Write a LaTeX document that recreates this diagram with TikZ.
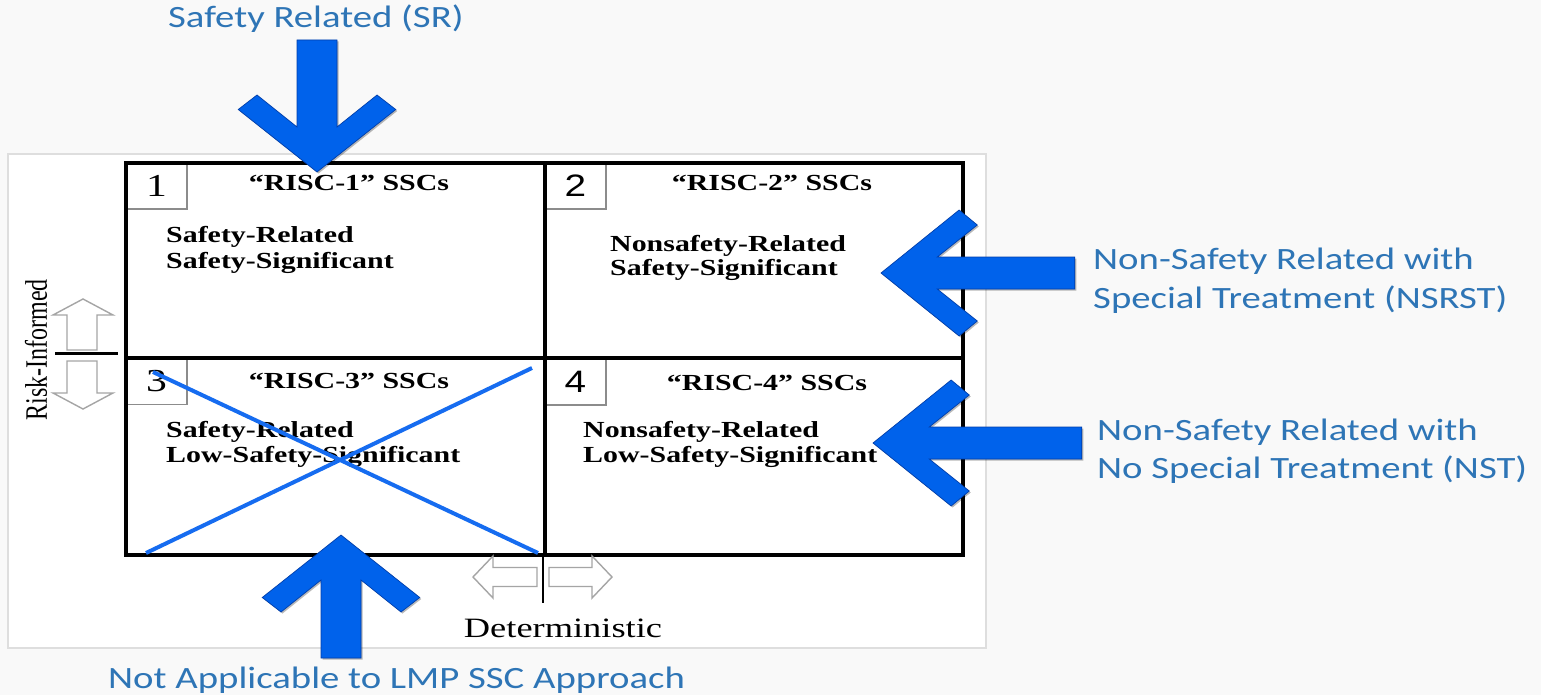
\documentclass[tikz,border=0pt]{standalone}
\usepackage{fontspec}
\usepackage{graphicx}
\setmainfont{Liberation Serif}
\newfontfamily\labelsans{Carlito}
\newfontfamily\digitsans{Liberation Sans}

\definecolor{pagebg}{RGB}{249,249,249}
\definecolor{panelrule}{RGB}{222,222,222}
\definecolor{capblue}{RGB}{46,117,182}
\definecolor{arrowblue}{RGB}{0,98,235}
\definecolor{arrowedge}{RGB}{0,62,170}
\definecolor{crossblue}{RGB}{22,108,240}
\definecolor{boxrule}{RGB}{140,140,140}
\definecolor{hollowrule}{RGB}{165,165,165}

% horizontally widened text
\newcommand\widen[2]{\scalebox{#1}[1]{#2}}

% thick blue chevron arrow: tip x, tip y, direction, shaft length
\newcommand\blockarrow[4]{%
  \fill[black, opacity=0.28, shift={(#1+1.5,#2+1.5)}, xscale=1.25, rotate=#3]
    (0,0) -- (-62.5,63) -- (-77,48) -- (-45,16) -- (-#4,16) -- (-#4,-16)
    -- (-45,-16) -- (-77,-48) -- (-62.5,-63) -- cycle;
  \filldraw[fill=arrowblue, draw=arrowedge, line width=0.7,
            shift={(#1,#2)}, xscale=1.25, rotate=#3]
    (0,0) -- (-62.5,63) -- (-77,48) -- (-45,16) -- (-#4,16) -- (-#4,-16)
    -- (-45,-16) -- (-77,-48) -- (-62.5,-63) -- cycle;}

\tikzset{
  numbox/.style={draw=boxrule, line width=1.5, fill=white, inner sep=0,
                 minimum width=61, minimum height=46},
  celltitle/.style={font=\bfseries\fontsize{23}{26}\selectfont, anchor=base, inner sep=0},
  cellbody/.style={font=\bfseries\fontsize{23}{26}\selectfont, anchor=base west, inner sep=0},
  caption/.style={font=\labelsans\fontsize{31}{36}\selectfont, text=capblue,
                  anchor=base west, inner sep=0},
  axislabel/.style={font=\fontsize{28}{30}\selectfont, inner sep=0},
  hollow/.style={draw=hollowrule, line width=1.4, fill=white, line join=miter},
  gridrule/.style={line width=4.5},
  divrule/.style={line width=4},
  crossline/.style={crossblue, line width=4},
}

\begin{document}
\begin{tikzpicture}[x=1pt, y=-1pt]
\useasboundingbox (0,0) rectangle (1541,695);
\fill[pagebg] (0,0) rectangle (1541,695);

% white panel
\draw[panelrule, line width=2, fill=white] (8,154) rectangle (986,648);

% number boxes in the cell corners
\node[numbox] (n1) at (156.5,186) {};
\node[numbox] (n3) at (156.5,381.5) {};
\node[numbox] (n2) at (575.5,186) {};
\node[numbox] (n4) at (575.5,382) {};
\node[font=\fontsize{32}{34}\selectfont, inner sep=0] (d1) at (n1) {\widen{1.3}{1}};
\node[font=\fontsize{32}{34}\selectfont, inner sep=0] (d3) at (n3) {\widen{1.3}{3}};
\node[font=\digitsans\fontsize{31}{34}\selectfont, inner sep=0] (d2) at (n2) {\widen{1.25}{2}};
\node[font=\digitsans\fontsize{31}{34}\selectfont, inner sep=0] (d4) at (n4) {\widen{1.25}{4}};

% the 2 x 2 grid
\draw[gridrule] (126,163) rectangle (963,555);
\draw[divrule] (545,163) -- (545,555);
\draw[divrule] (126,357.5) -- (963,357.5);

% cell titles
\node[celltitle] (t1) at (349,191) {\widen{1.3}{“RISC-1” SSCs}};
\node[celltitle] (t2) at (772,191) {\widen{1.3}{“RISC-2” SSCs}};
\node[celltitle] (t3) at (349,388) {\widen{1.3}{“RISC-3” SSCs}};
\node[celltitle] (t4) at (767,390) {\widen{1.3}{“RISC-4” SSCs}};

% cell descriptions
\node[cellbody] (b1a) at (166,242) {\widen{1.3}{Safety-Related}};
\node[cellbody] (b1b) at (166,268) {\widen{1.3}{Safety-Significant}};
\node[cellbody] (b2a) at (610,251) {\widen{1.3}{Nonsafety-Related}};
\node[cellbody] (b2b) at (610,275) {\widen{1.3}{Safety-Significant}};
\node[cellbody] (b3a) at (166,437) {\widen{1.3}{Safety-Related}};
\node[cellbody] (b3b) at (166,462) {\widen{1.3}{Low-Safety-Significant}};
\node[cellbody] (b4a) at (583,437) {\widen{1.3}{Nonsafety-Related}};
\node[cellbody] (b4b) at (583,462) {\widen{1.3}{Low-Safety-Significant}};

% cross over cell 3
\coordinate (x1s) at (153,372);
\coordinate (x1e) at (538,553);
\coordinate (x2s) at (146,553);
\coordinate (x2e) at (532,368);
\draw[crossline] (x1s) -- (x1e);
\draw[crossline] (x2s) -- (x2e);

% vertical axis: Risk-Informed
\node[font=\fontsize{24}{26}\selectfont, rotate=90, inner sep=0] (risk) at (36,350)
  {\scalebox{1}[1.3]{Risk-Informed}};
\draw[hollow] (67,350) -- (67,315) -- (53,315) -- (83,299) -- (113,315) -- (97,315) -- (97,350) -- cycle;
\draw[hollow] (67,361) -- (67,393) -- (53,393) -- (83,409) -- (113,393) -- (97,393) -- (97,361) -- cycle;
\draw[line width=3] (55,353.5) -- (118,353.5);

% horizontal axis: Deterministic
\draw[hollow] (537,567.5) -- (493,567.5) -- (493,556) -- (473,577) -- (493,598) -- (493,586.5) -- (537,586.5) -- cycle;
\draw[hollow] (549,567.5) -- (592,567.5) -- (592,556) -- (612,577) -- (592,598) -- (592,586.5) -- (549,586.5) -- cycle;
\draw[line width=2.5] (543,555) -- (543,603);
\node[axislabel, anchor=base] (det) at (563,637) {\widen{1.3}{Deterministic}};

% blue block arrows
\blockarrow{317}{172}{-90}{132}
\blockarrow{341}{535}{90}{123}
\blockarrow{881}{273}{180}{155}
\blockarrow{873}{443}{180}{167}

% blue captions
\node[caption] (sr) at (168,28) {\widen{1.25}{Safety Related (SR)}};
\node[caption] (nsrstA) at (1093,269) {\widen{1.25}{Non-Safety Related with}};
\node[caption] (nsrstB) at (1093,308) {\widen{1.25}{Special Treatment (NSRST)}};
\node[caption] (nstA) at (1097,440) {\widen{1.25}{Non-Safety Related with}};
\node[caption] (nstB) at (1097,478) {\widen{1.25}{No Special Treatment (NST)}};
\node[caption] (lmp) at (108,688) {\widen{1.25}{Not Applicable to LMP SSC Approach}};
\end{tikzpicture}
\end{document}
